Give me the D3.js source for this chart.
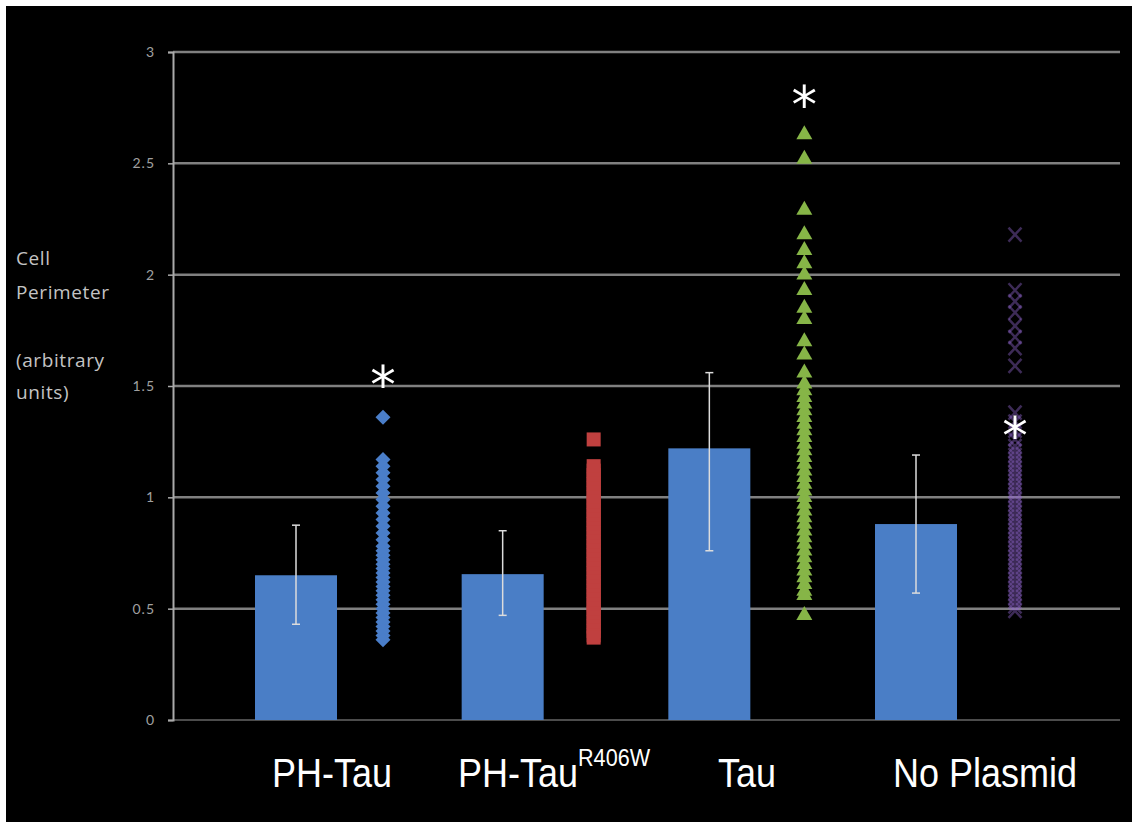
<!DOCTYPE html>
<html>
  <head>
    <meta charset="utf-8">
    <title>Cell Perimeter by Plasmid</title>
    <script src="https://d3js.org/d3.v7.min.js"></script>
    <style>
      body { margin: 0; background: #fff; }
      svg { display: block; }
    </style>
  </head>
  <body>
    <div id="chart"></div>
    <script>
      // categories and bar values (mean +/- error)
      var categories = ["PH-Tau", "PH-TauR406W", "Tau", "No Plasmid"];
      var barMeans = [0.65, 0.655, 1.22, 0.88];
      var errLow = [0.43, 0.47, 0.76, 0.57];
      var errHigh = [0.875, 0.85, 1.56, 1.19];

      // individual cell values
      var phTauPoints = [1.36, 1.17, 1.14, 1.11, 1.08, 1.05, 1.02, 0.99, 0.96, 0.93, 0.90, 0.87,
        0.84, 0.81, 0.78, 0.76, 0.74, 0.72, 0.70, 0.68, 0.66, 0.64, 0.62, 0.60, 0.58, 0.56,
        0.54, 0.52, 0.50, 0.48, 0.46, 0.44, 0.42, 0.40, 0.38, 0.36];
      var r406wPoints = [1.26, 1.14, 1.12, 1.10, 1.08, 1.06, 1.04, 1.02, 1.00, 0.98, 0.96, 0.94,
        0.92, 0.90, 0.88, 0.86, 0.84, 0.82, 0.80, 0.78, 0.76, 0.74, 0.72, 0.70, 0.68, 0.66,
        0.64, 0.62, 0.60, 0.58, 0.56, 0.54, 0.52, 0.50, 0.48, 0.46, 0.44, 0.42, 0.40, 0.38, 0.37];
      var tauPoints = [2.64, 2.53, 2.30, 2.19, 2.12, 2.06, 2.01, 1.94, 1.86, 1.81, 1.71, 1.65,
        1.57, 1.52, 1.49, 1.46, 1.43, 1.40, 1.37, 1.34, 1.31, 1.28, 1.25, 1.22, 1.19, 1.16,
        1.13, 1.10, 1.07, 1.04, 1.01, 0.98, 0.95, 0.92, 0.89, 0.86, 0.83, 0.80, 0.77, 0.74,
        0.71, 0.68, 0.65, 0.62, 0.59, 0.57, 0.48];
      var noPlasmidPoints = [2.18, 1.93, 1.88, 1.83, 1.77, 1.72, 1.67, 1.59, 1.38, 1.34, 1.30,
        1.26, 1.23, 1.21, 1.19, 1.17, 1.15, 1.13, 1.11, 1.09, 1.07, 1.05, 1.03, 1.01, 0.99,
        0.97, 0.95, 0.93, 0.91, 0.89, 0.87, 0.85, 0.83, 0.81, 0.79, 0.77, 0.75, 0.73, 0.71,
        0.69, 0.67, 0.65, 0.63, 0.61, 0.59, 0.57, 0.55, 0.53, 0.51, 0.49];

      var yTicks = [0, 0.5, 1, 1.5, 2, 2.5, 3];
      // where the significance stars sit, in axis units (null = no star)
      var starValues = [1.54, null, 2.80, 1.31];

      var width = 1132;
      var height = 822;

      var svg = d3.select("#chart")
        .append("svg")
        .attr("width", width)
        .attr("height", height);

      svg.append("rect")
        .attr("x", 6)
        .attr("y", 6)
        .attr("width", width - 6)
        .attr("height", height - 6)
        .attr("fill", "#000");

      var y = d3.scaleLinear().domain([0, 3]).range([720, 52]);
      var xBar = d3.scalePoint().domain(categories).range([296, 916]);
      var xPts = d3.scalePoint().domain(categories).range([383, 1015]);

      // gridlines
      svg.append("g")
        .selectAll("line")
        .data(yTicks)
        .enter()
        .append("line")
        .attr("x1", 173)
        .attr("x2", 1120)
        .attr("y1", function(d) { return y(d); })
        .attr("y2", function(d) { return y(d); })
        .attr("stroke", function(d) { return d === 0 ? "#666" : "#808080"; })
        .attr("stroke-width", function(d) { return d === 0 ? 1.5 : 2.5; });

      // y axis
      var yAxis = d3.axisLeft(y)
        .tickValues(yTicks)
        .tickFormat(function(d) { return d; })
        .tickSize(5)
        .tickPadding(13);

      var axisG = svg.append("g")
        .attr("transform", "translate(173,0)")
        .call(yAxis);
      axisG.select(".domain").attr("stroke", "#aaa").attr("stroke-width", 2);
      axisG.selectAll(".tick line").attr("stroke", "#aaa").attr("stroke-width", 1.5);
      axisG.selectAll(".tick text")
        .attr("fill", "#a0a0a0")
        .style("font-family", "Lato, sans-serif")
        .style("font-size", "14px")
        .style("letter-spacing", "1px");

      // axis title
      var titleLines = [["Cell", 265], ["Perimeter", 299], ["(arbitrary", 367], ["units)", 399]];
      svg.append("g")
        .selectAll("text")
        .data(titleLines)
        .enter()
        .append("text")
        .attr("x", 16)
        .attr("y", function(d) { return d[1]; })
        .attr("fill", "#c4c4c4")
        .style("font-family", "'Open Sans', sans-serif")
        .style("font-size", "19px")
        .style("letter-spacing", "0.6px")
        .text(function(d) { return d[0]; });

      // bars
      var barWidth = 82;
      svg.append("g")
        .selectAll("rect")
        .data(categories)
        .enter()
        .append("rect")
        .attr("x", function(d) { return xBar(d) - barWidth / 2; })
        .attr("y", function(d, i) { return y(barMeans[i]); })
        .attr("width", barWidth)
        .attr("height", function(d, i) { return y(0) - y(barMeans[i]); })
        .attr("fill", "#4a7ec6");

      // error bars
      var err = svg.append("g")
        .attr("stroke", "#dcdcdc")
        .attr("stroke-width", 1.5);
      categories.forEach(function(c, i) {
        var cx = xBar(c);
        err.append("line").attr("x1", cx).attr("x2", cx)
          .attr("y1", y(errLow[i])).attr("y2", y(errHigh[i]));
        [errLow[i], errHigh[i]].forEach(function(v) {
          err.append("line").attr("x1", cx - 4).attr("x2", cx + 4)
            .attr("y1", y(v)).attr("y2", y(v));
        });
      });

      // scatter columns
      svg.append("g")
        .selectAll("path")
        .data(phTauPoints)
        .enter()
        .append("path")
        .attr("transform", function(d) { return "translate(" + xPts(categories[0]) + "," + y(d) + ")"; })
        .attr("d", "M0,-7.5L7.5,0L0,7.5L-7.5,0Z")
        .attr("fill", "#4a7ec9");

      svg.append("g")
        .selectAll("rect")
        .data(r406wPoints)
        .enter()
        .append("rect")
        .attr("x", xPts(categories[1]) - 7)
        .attr("y", function(d) { return y(d) - 7; })
        .attr("width", 14)
        .attr("height", 14)
        .attr("fill", "#c0403f");

      svg.append("g")
        .selectAll("path")
        .data(tauPoints)
        .enter()
        .append("path")
        .attr("transform", function(d) { return "translate(" + xPts(categories[2]) + "," + y(d) + ")"; })
        .attr("d", "M0,-7L8,7L-8,7Z")
        .attr("fill", "#86b547");

      svg.append("g")
        .selectAll("path")
        .data(noPlasmidPoints)
        .enter()
        .append("path")
        .attr("transform", function(d) { return "translate(" + xPts(categories[3]) + "," + y(d) + ")"; })
        .attr("d", "M-6.5,-7L6.5,7M-6.5,7L6.5,-7")
        .attr("fill", "none")
        .attr("stroke", "#9266d0")
        .attr("stroke-width", 2.5)
        .attr("stroke-opacity", 0.42);

      // significance stars
      svg.append("g")
        .selectAll("text")
        .data(categories.filter(function(c, i) { return starValues[i] !== null; }))
        .enter()
        .append("text")
        .attr("x", function(d) { return xPts(d); })
        .attr("y", function(d) { return y(starValues[categories.indexOf(d)]) + 26; })
        .attr("text-anchor", "middle")
        .attr("fill", "#fff")
        .style("font-family", "DejaVu Sans, sans-serif")
        .style("font-size", "51px")
        .text("*");

      // category labels (slightly condensed)
      var squeeze = 0.9;
      var labelCenter = [332, 529, 747, 985];
      var labels = svg.append("g")
        .attr("transform", "scale(" + squeeze + ",1)")
        .attr("fill", "#fff")
        .style("font-family", "Liberation Sans, Arial, sans-serif")
        .style("font-size", "40px");
      categories.forEach(function(c, i) {
        var t = labels.append("text")
          .attr("x", labelCenter[i] / squeeze)
          .attr("y", 787)
          .attr("text-anchor", "middle");
        if (c === "PH-TauR406W") {
          t.attr("text-anchor", "start").attr("x", 458 / squeeze);
          t.append("tspan").text("PH-Tau");
          t.append("tspan").attr("dy", -21).style("font-size", "24px").text("R406W");
        } else {
          t.text(c);
        }
      });
    </script>
  </body>
</html>
